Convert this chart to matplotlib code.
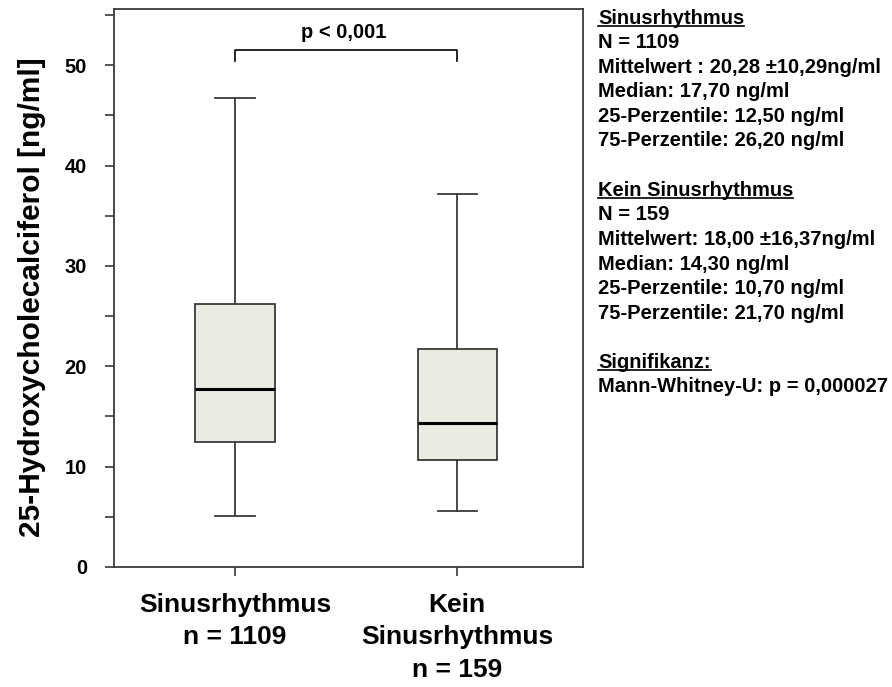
import matplotlib.pyplot as plt
from matplotlib.ticker import MultipleLocator

plt.rcParams['font.family'] = ['Liberation Sans', 'DejaVu Sans']
plt.rcParams['font.weight'] = 'bold'

# Box plot statistics per group (ng/ml)
groups = ['Sinusrhythmus\nn = 1109', 'Kein\nSinusrhythmus\nn = 159']
median = [17.70, 14.30]
q1 = [12.50, 10.70]
q3 = [26.20, 21.70]
whisker_low = [5.1, 5.6]
whisker_high = [46.7, 37.2]

# Significance bracket
bracket_y = 51.5
bracket_leg = 50.4
p_label = 'p < 0,001'

# Summary text on the right
info_lines = [
    ('Sinusrhythmus', True),
    ('N = 1109', False),
    ('Mittelwert : 20,28 \u00b110,29ng/ml', False),
    ('Median: 17,70 ng/ml', False),
    ('25-Perzentile: 12,50 ng/ml', False),
    ('75-Perzentile: 26,20 ng/ml', False),
    ('', False),
    ('Kein Sinusrhythmus', True),
    ('N = 159', False),
    ('Mittelwert: 18,00 \u00b116,37ng/ml', False),
    ('Median: 14,30 ng/ml', False),
    ('25-Perzentile: 10,70 ng/ml', False),
    ('75-Perzentile: 21,70 ng/ml', False),
    ('', False),
    ('Signifikanz:', True),
    ('Mann-Whitney-U: p = 0,000027', False),
]

W, H = 892, 687
fig = plt.figure(figsize=(W / 100, H / 100), dpi=100)
ax = fig.add_axes([114 / W, 1 - 567 / H, (583 - 114) / W, (567 - 9) / H])

stats = []
for i in range(len(groups)):
    stats.append(dict(med=median[i], q1=q1[i], q3=q3[i],
                      whislo=whisker_low[i], whishi=whisker_high[i], fliers=[]))

line_col = '#3a3a3a'
ax.bxp(stats, positions=[1, 2], widths=0.356, capwidths=0.176,
       showfliers=False, patch_artist=True,
       boxprops=dict(facecolor='#ecebe1', edgecolor=line_col, linewidth=1.3),
       medianprops=dict(color='black', linewidth=2.2),
       whiskerprops=dict(color=line_col, linewidth=1.3),
       capprops=dict(color=line_col, linewidth=1.3))

ax.set_xlim(0.455, 2.567)
ax.set_ylim(0, 55.6)
ax.set_xticks([1, 2])
ax.set_xticklabels(groups, fontsize=19, fontweight='bold', linespacing=1.45)
ax.yaxis.set_major_locator(MultipleLocator(10))
ax.yaxis.set_minor_locator(MultipleLocator(5))
ax.tick_params(axis='y', which='both', length=6.5, width=1.2, color=line_col,
               labelsize=14.5, pad=13)
ax.tick_params(axis='x', length=6.5, width=1.2, color=line_col, pad=12)
for s in ax.spines.values():
    s.set_color(line_col)
    s.set_linewidth(1.3)

ax.set_ylabel('25-Hydroxycholecalciferol [ng/ml]', fontsize=21.5, fontweight='bold')
ax.yaxis.set_label_coords(-0.145, 0.483)

# bracket with p-value
ax.plot([1, 1, 2, 2], [bracket_leg, bracket_y, bracket_y, bracket_leg],
        color='black', linewidth=1.2)
ax.text(1.49, 52.7, p_label, ha='center', va='baseline', fontsize=14.5,
        fontweight='bold')

fig.canvas.draw()
renderer = fig.canvas.get_renderer()
x0 = 598 / W
for i, (txt, underline) in enumerate(info_lines):
    if not txt:
        continue
    yb = 1 - (23.5 + 24.6 * i) / H
    t = fig.text(x0, yb, txt, ha='left', va='baseline', fontsize=14.5,
                 fontweight='bold')
    if underline:
        bb = t.get_window_extent(renderer)
        uy = yb - 2.5 / H
        fig.add_artist(plt.Line2D([bb.x0 / W, bb.x1 / W], [uy, uy],
                                  color='black', linewidth=1.2))

fig.savefig('out.png', dpi=100)
